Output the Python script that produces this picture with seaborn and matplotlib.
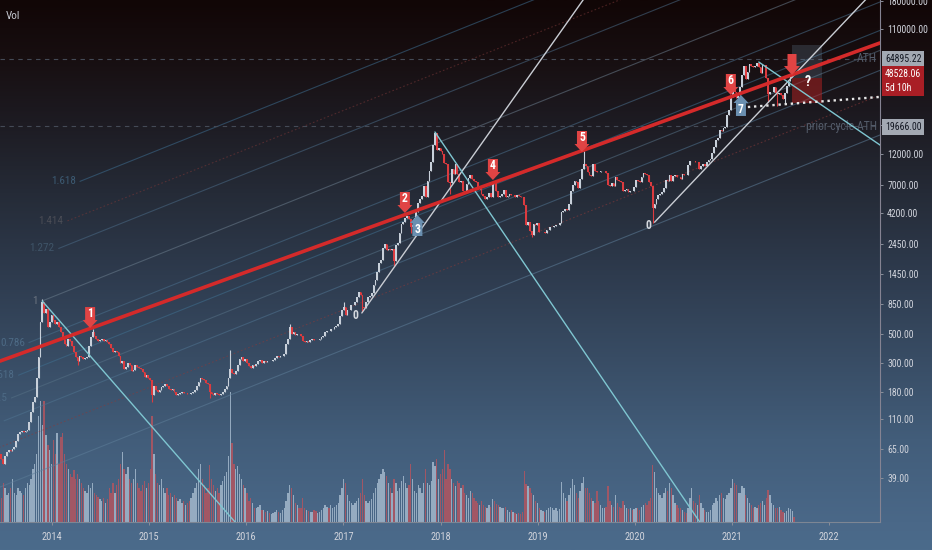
import numpy as np
import pandas as pd
import matplotlib
matplotlib.use("Agg")
import matplotlib.pyplot as plt
import matplotlib.dates as mdates
import matplotlib.transforms as mtransforms
from matplotlib.patches import Polygon
from matplotlib.colors import LinearSegmentedColormap
from matplotlib.ticker import FixedLocator, FixedFormatter, NullLocator
import seaborn as sns

# ---- weekly closes (candles start on Monday 2013-06-17) ----
close_2013 = [60, 55, 50, 58, 62, 64, 63, 65, 68, 75, 85, 88, 90, 88, 90, 92, 105, 125, 150, 165,
              230, 330, 620, 880, 720, 780, 560, 620, 700]
close_2014 = [640, 600, 620, 560, 520, 460, 420, 400, 460, 440, 400, 360, 330, 310, 340, 330, 320,
              325, 330, 400, 470, 520, 480, 460, 440, 450, 455, 440, 450, 430, 420, 390, 360, 370,
              360, 340, 300, 310, 270, 280, 300, 290, 260, 265, 290, 280, 275, 270, 255, 235, 240, 230]
close_2015 = [220, 170, 200, 185, 180, 185, 195, 200, 205, 200, 190, 185, 188, 180, 170, 172, 175,
              178, 176, 177, 174, 172, 176, 180, 185, 198, 215, 228, 225, 222, 210, 205, 180, 172,
              170, 175, 172, 170, 172, 178, 190, 200, 230, 270, 250, 245, 260, 290, 320, 330, 310, 320]
close_2016 = [300, 285, 275, 290, 285, 295, 310, 315, 300, 310, 305, 310, 308, 312, 315, 325, 335,
              330, 335, 335, 350, 420, 460, 560, 500, 520, 490, 500, 495, 480, 440, 435, 440, 432,
              445, 455, 450, 445, 450, 460, 470, 480, 520, 530, 525, 540, 545, 560, 570, 600, 680, 760]
close_2017 = [800, 700, 760, 760, 830, 840, 880, 960, 1040, 1000, 800, 790, 880, 960, 970, 1030, 1180,
              1300, 1500, 1750, 1850, 2300, 2450, 2200, 2250, 2200, 2250, 1800, 2400, 2500, 3000,
              3500, 3600, 3900, 4000, 3800, 3300, 3400, 3900, 4300, 5100, 5400, 5700, 6800, 5600,
              7400, 8900, 10500, 14000, 17500, 13000, 13400]
close_2018 = [12600, 12000, 10300, 10100, 7300, 7200, 9200, 8500, 10100, 8400, 7300, 7500, 6200,
              6100, 7100, 7800, 8300, 7700, 7500, 7300, 6500, 6800, 5900, 5700, 5400, 5600, 6000,
              5600, 7300, 7200, 6200, 5600, 5700, 5900, 6400, 5600, 5700, 5900, 5800, 5800, 5600,
              5800, 5700, 5650, 5600, 4900, 3400, 3600, 3100, 2850, 3500, 3400, 3550]
close_2019 = [3050, 3050, 3050, 2970, 3140, 3140, 3310, 3310, 3350, 3440, 3440, 3530, 4340, 4390,
              4560, 4470, 4950, 6230, 7000, 7480, 7350, 6620, 7700, 9200, 10150, 9800, 8770, 8260,
              8170, 10150, 8860, 8770, 8690, 8860, 8860, 8860, 8600, 6970, 6790, 7140, 6840, 7950,
              7570, 7520, 7310, 6280, 6360, 6450, 6110, 6280, 6240, 6670]
close_2020 = [7570, 7400, 7310, 7950, 8630, 8420, 8250, 7270, 6880, 4600, 4990, 5380, 5850, 5930,
              6110, 6620, 7650, 7480, 8340, 7480, 8130, 8300, 8040, 8000, 7780, 8370, 8330, 8240,
              9900, 10620, 10710, 10620, 10490, 10530, 9270, 9720, 9990, 9680, 10350, 10830, 10930,
              12350, 13500, 15500, 16000, 18400, 18200, 19150, 19250, 23800, 26300, 33000]
close_2021 = [38200, 36000, 32300, 34300, 39200, 48600, 57500, 45100, 51200, 59000, 57400, 55800,
              57000, 60000, 56200, 50000, 57800, 58200, 46400, 34700, 35700, 35800, 39100, 35500,
              34700, 35300, 34300, 31800, 35400, 39900, 43800, 47100, 49300, 48528.06]
first_open = 64

# ---- weekly volume (same weeks) ----
vol_2013 = [30, 25, 40, 35, 28, 30, 35, 45, 30, 28, 35, 32, 30, 28, 35, 40, 38, 45, 55, 60,
            70, 110, 125, 100, 125, 90, 80, 75, 60]
vol_2014 = [85, 70, 92, 60, 88, 92, 70, 60, 55, 50, 47, 54, 45, 50, 44, 40, 35, 32, 30, 38, 35,
            40, 30, 28, 26, 24, 22, 25, 20, 24, 35, 30, 40, 30, 38, 45, 60, 72, 55, 50, 57, 45,
            40, 45, 55, 40, 35, 32, 38, 42, 35, 40]
vol_2015 = [55, 110, 70, 50, 40, 38, 45, 35, 30, 35, 28, 30, 26, 28, 25, 22, 24, 20, 22, 18, 20,
            22, 25, 30, 35, 40, 55, 60, 45, 38, 30, 35, 59, 45, 38, 32, 35, 30, 38, 42, 48, 52,
            68, 135, 82, 60, 55, 58, 50, 45, 38, 35]
vol_2016 = [30, 22, 25, 20, 15, 14, 16, 18, 12, 12, 10, 11, 9, 8, 9, 10, 12, 10, 9, 12, 14, 22,
            30, 38, 35, 28, 20, 18, 15, 14, 25, 15, 12, 11, 10, 10, 12, 11, 9, 10, 12, 14, 18,
            16, 15, 18, 14, 16, 18, 20, 28, 35]
vol_2017 = [45, 40, 28, 22, 20, 18, 20, 22, 25, 30, 45, 28, 22, 20, 22, 24, 30, 35, 40, 45, 50,
            55, 52, 48, 40, 35, 30, 45, 40, 32, 35, 42, 48, 40, 35, 38, 60, 45, 32, 30, 38, 35,
            30, 40, 55, 40, 38, 42, 62, 58, 65, 45]
vol_2018 = [50, 55, 74, 45, 60, 55, 45, 40, 37, 42, 40, 35, 38, 30, 28, 25, 32, 30, 25, 22, 20,
            18, 22, 18, 16, 15, 18, 16, 24, 22, 19, 18, 16, 15, 14, 16, 12, 10, 12, 10, 9, 8, 9,
            8, 10, 53, 39, 37, 35, 30, 28, 22, 20]
vol_2019 = [14, 12, 11, 10, 12, 14, 16, 15, 12, 14, 11, 13, 41, 30, 25, 22, 28, 35, 45, 38, 30,
            25, 32, 40, 47, 35, 35, 30, 25, 22, 20, 32, 22, 18, 15, 14, 16, 37, 22, 18, 16, 28,
            20, 16, 15, 22, 18, 14, 13, 15, 12, 13]
vol_2020 = [15, 14, 12, 16, 18, 20, 18, 22, 25, 59, 52, 35, 30, 28, 25, 30, 35, 32, 40, 35, 28,
            20, 18, 15, 14, 12, 10, 9, 15, 25, 35, 22, 20, 18, 28, 20, 15, 12, 10, 10, 12, 18,
            20, 25, 22, 28, 30, 25, 24, 28, 30, 35]
vol_2021 = [44, 40, 38, 30, 30, 37, 35, 28, 25, 20, 18, 15, 16, 15, 18, 20, 22, 18, 25, 33, 28,
            20, 18, 15, 14, 16, 12, 10, 9, 11, 14, 13, 11, 5]

wick_high = {"2013-11-25": 920, "2014-06-02": 545, "2015-11-02": 376, "2016-06-13": 600,
             "2017-01-02": 880, "2017-12-11": 17800, "2018-07-23": 7500, "2019-06-24": 12700}
wick_low = {"2014-04-07": 290, "2015-01-12": 150, "2015-08-17": 160, "2017-03-13": 740,
            "2017-07-10": 1650, "2017-09-11": 2950, "2018-02-05": 5900, "2018-12-10": 2750,
            "2020-03-09": 3550, "2021-05-17": 30000, "2021-06-21": 28000, "2021-07-19": 29000}

ath = 64895.22
last_price = 48528.06
prior_ath = 19666.00
y_ticks = [39, 65, 110, 180, 300, 500, 850, 1450, 2450, 4200, 7000, 12000, 20000, 110000, 180000]
years = [2014, 2015, 2016, 2017, 2018, 2019, 2020, 2021, 2022]

# drawings (date, price)
red_trend = [("2014-01-01", 431), ("2022-01-01", 61850)]
white_fan = [[("2017-03-11", 723), ("2019-06-21", 183000)],
             [("2020-03-16", 3600), ("2021-08-23", 48600)]]
cyan_down = [[("2013-11-25", 893), ("2015-11-20", 17.94)],
             [("2017-12-11", 17750), ("2020-09-02", 17.94)],
             [("2021-04-12", 61200), ("2022-07-12", 14100)]]
dotted_support = [("2021-03-02", 27600), ("2022-07-12", 33000)]
fib_levels = [0, 0.236, 0.382, 0.5, 0.618, 0.786, 1, 1.272, 1.414, 1.618]
fib_colors = ["#5d7d98", "#8a3a3a", "#4f7390", "#557085", "#3f6f8f", "#4a6f8c", "#6a7c8c",
              "#4a6a86", "#7a3838", "#3d6d90"]
fib_text = ["#4d6a85", "#5a3a3a", "#4d6a85", "#4d6a85", "#4d6a85", "#4d6a85", "#6b7480",
            "#3f5468", "#4a4c55", "#3c5a72"]
fib_price0 = 48.1      # level 0 on 2014-01-01
fib_price1 = 959       # level 1 on 2014-01-01
fib_slope = 0.2984     # decades per year
fib_start1 = "2013-11-24"
fib_step_days = 231
down_marks = [("2014-05-24", 554, "1"), ("2017-08-20", 4236, "2"), ("2018-07-17", 7594, "4"),
              ("2019-06-17", 12460, "5"), ("2020-12-28", 34150, "6")]
up_marks = [("2017-10-06", 4090, "3"), ("2021-02-04", 34150, "7")]
big_mark = ("2021-08-15", 48630)
zero_marks = [("2017-03-11", 723), ("2020-03-16", 3600)]

x_min, x_max = pd.Timestamp("2013-06-19"), pd.Timestamp("2022-07-12")
y_min, y_max = 17.94, 183200

closes = np.array(close_2013 + close_2014 + close_2015 + close_2016 + close_2017 + close_2018
                  + close_2019 + close_2020 + close_2021, dtype=float)
vols = np.array(vol_2013 + vol_2014 + vol_2015 + vol_2016 + vol_2017 + vol_2018 + vol_2019
                + vol_2020 + vol_2021, dtype=float)
dates = pd.date_range("2013-06-17", periods=len(closes), freq="W-MON")
opens = np.r_[first_open, closes[:-1]]
highs = np.maximum(opens, closes)
lows = np.minimum(opens, closes)
idx = pd.Index(dates)
for d, v in wick_high.items():
    i = idx.get_loc(pd.Timestamp(d))
    highs[i] = max(highs[i], v)
for d, v in wick_low.items():
    i = idx.get_loc(pd.Timestamp(d))
    lows[i] = min(lows[i], v)
up = closes >= opens

sns.set_theme(style="dark")
plt.rcParams["font.family"] = ["Roboto Condensed", "Liberation Sans Narrow", "Liberation Sans",
                               "DejaVu Sans"]

fig = plt.figure(figsize=(9.32, 5.5), dpi=100)

# gradient background
bg = fig.add_axes([0, 0, 1, 1], zorder=-10)
grad = LinearSegmentedColormap.from_list("tv", [
    (0.00, "#110606"), (0.10, "#170e10"), (0.22, "#1d1b22"), (0.35, "#252b37"),
    (0.50, "#2e3b4e"), (0.65, "#384c64"), (0.80, "#425d7a"), (0.95, "#4a6888"),
    (1.00, "#4b6b8b")])
bg.imshow(np.linspace(0, 1, 256).reshape(-1, 1), cmap=grad, aspect="auto",
          extent=[0, 1, 0, 1], origin="upper")
bg.axis("off")

rect = [0, 28 / 550, 880 / 932, 522 / 550]
vax = fig.add_axes(rect, zorder=0)
ax = fig.add_axes(rect, zorder=1)
for a in (ax, vax):
    a.set_facecolor("none")
    a.grid(False)
    a.set_xlim(x_min, x_max)

# volume
vax.bar(dates, vols, width=5, color=np.where(up, "#a3b8cc", "#b25560"), alpha=0.85, lw=0)
vax.set_ylim(0, vols.max() * 4.0)
vax.axis("off")

ax.set_yscale("log")
ax.set_ylim(y_min, y_max)
ax.set_xlim(x_min, x_max)

# candles
cols = np.where(up, "#c8d0da", "#dc3b3f")
ax.vlines(dates, lows, highs, colors=cols, lw=0.8, zorder=3)
ax.bar(dates, closes - opens, bottom=opens, width=6.5, color=cols, lw=0, zorder=3)


def log_line(p1, p2, start, end):
    d1, v1 = pd.Timestamp(p1[0]), np.log10(p1[1])
    d2, v2 = pd.Timestamp(p2[0]), np.log10(p2[1])
    k = (v2 - v1) / (d2 - d1).days
    xs = [pd.Timestamp(start), pd.Timestamp(end)]
    return xs, [10 ** (v1 + k * (x - d1).days) for x in xs]


def offset(dx_px, dy_px, base=None):
    base = ax.transData if base is None else base
    return base + mtransforms.ScaledTranslation(dx_px / 100, dy_px / 100, fig.dpi_scale_trans)


# fib channel
base_day = pd.Timestamp("2014-01-01")
for lev, c, tc in zip(fib_levels, fib_colors, fib_text):
    start = pd.Timestamp(fib_start1) + pd.Timedelta(days=(lev - 1) * fib_step_days)
    lp = np.log10(fib_price0) + lev * (np.log10(fib_price1) - np.log10(fib_price0))
    xs = [start, x_max]
    ys = [10 ** (lp + fib_slope * (x - base_day).days / 365.25) for x in xs]
    ls = (0, (1.5, 2)) if c in ("#8a3a3a", "#7a3838") else "-"
    ax.plot(xs, ys, color=c, lw=0.8, ls=ls, alpha=0.55, zorder=2)
    if lev >= 0.5:
        ax.text(start, ys[0], f"{lev:g}", transform=offset(-4, 0), ha="right", va="center",
                fontsize=8, color=tc, clip_on=True, clip_box=ax.bbox, zorder=2)

# horizontal levels
for lvl, txt in ((ath, "ATH"), (prior_ath, "prior cycle ATH")):
    ax.axhline(lvl, color="#444a56", lw=0.8, ls=(0, (4, 4)), zorder=2)
    ax.text(0.9965, lvl, txt, transform=ax.get_yaxis_transform(), ha="right", va="center",
            fontsize=8.5, color="#535b69", zorder=2)

# trend lines
xs, ys = log_line(red_trend[0], red_trend[1], x_min, x_max)
sns.lineplot(x=xs, y=ys, ax=ax, color="#d42a2a", lw=2.6, zorder=5)
for seg in white_fan:
    xs, ys = log_line(seg[0], seg[1], seg[0][0], x_max)
    ax.plot(xs, ys, color="#c9cdd4", lw=1.0, zorder=4)
for seg in cyan_down:
    end = pd.Timestamp(seg[1][0]) + pd.Timedelta(days=60)
    xs, ys = log_line(seg[0], seg[1], seg[0][0], end)
    ax.plot(xs, ys, color="#7fc6d1", lw=1.0, zorder=4)
xs, ys = log_line(dotted_support[0], dotted_support[1], dotted_support[0][0], x_max)
ax.plot(xs, ys, color="#e6e6e6", lw=1.7, ls=(0, (1, 1.6)), zorder=4)

# projection box
b0, b1 = pd.Timestamp("2021-08-15"), pd.Timestamp("2021-12-05")
ax.fill_between([b0, b1], 46100, 82700, color="#7fa4c0", alpha=0.2, lw=0, zorder=3)
ax.fill_between([b0, b1], 29650, 46100, color="#b52222", alpha=0.5, lw=0, zorder=3)
ax.text(pd.Timestamp("2021-10-14"), 42970, "?", color="white", fontsize=10,
        fontweight="bold", ha="center", va="center", zorder=7)


def arrow(date, price, label, up_dir=False, color="#e04444", bw=10, tw=15, bh=13, th=8):
    xd = mdates.date2num(pd.Timestamp(date))
    tr = fig.dpi_scale_trans + mtransforms.ScaledTranslation(xd, price, ax.transData)
    s = -1 if up_dir else 1
    v = np.array([(0, 0), (tw / 2, th), (bw / 2, th), (bw / 2, th + bh), (-bw / 2, th + bh),
                  (-bw / 2, th), (-tw / 2, th)], dtype=float)
    v[:, 1] *= s
    ax.add_patch(Polygon(v / 100, closed=True, transform=tr, fc=color, ec="none", zorder=6))
    if label:
        ax.text(0, s * (th + bh / 2) / 100, label, transform=tr, ha="center", va="center",
                color="white", fontsize=8.5, fontweight="bold", zorder=7)


for d, p, lab in down_marks:
    arrow(d, p, lab)
for d, p, lab in up_marks:
    arrow(d, p, lab, up_dir=True, color="#6a8fb0")
arrow(big_mark[0], big_mark[1], "", bw=9, tw=16, bh=12, th=9)

for d, p in zero_marks:
    ax.text(pd.Timestamp(d), p, "0", transform=offset(-6, -3), ha="center", va="center",
            color="#d4d8de", fontsize=8.5, fontweight="bold", zorder=6)

# axes styling
ax.yaxis.tick_right()
ax.yaxis.set_major_locator(FixedLocator(y_ticks))
ax.yaxis.set_major_formatter(FixedFormatter([f"{v:.2f}" for v in y_ticks]))
ax.yaxis.set_minor_locator(NullLocator())
ax.set_xticks([pd.Timestamp(f"{y}-01-01") for y in years])
ax.set_xticklabels([str(y) for y in years])
ax.xaxis.set_minor_locator(NullLocator())
ax.tick_params(axis="y", which="major", right=True, left=False, length=2.2, width=0.7,
               color="#8a8f9a", labelcolor="#d1d4dc", labelsize=7, pad=3)
ax.tick_params(axis="x", which="major", bottom=True, length=2.2, width=0.7, color="#8a8f9a",
               labelcolor="#d1d4dc", labelsize=7.5, pad=5)
ax.set_xlabel("")
ax.set_ylabel("")
for side in ("left", "top"):
    ax.spines[side].set_visible(False)
ax.spines["right"].set_color("#858392")
ax.spines["bottom"].set_color("#7d8694")
for side in ("right", "bottom"):
    ax.spines[side].set_linewidth(0.8)

ax.text(0.0068, 0.969, "Vol", transform=ax.transAxes, color="#c5c8d0", fontsize=8,
        ha="left", va="center")

# price labels on the scale
ytr = ax.get_yaxis_transform()
box_kw = dict(boxstyle="square,pad=0.3", ec="none")
ax.text(1.0, ath, f"{ath:.2f}", transform=offset(5, 0, ytr), ha="left", va="center",
        fontsize=7, color="#131722", bbox=dict(fc="#a3a9b3", **box_kw), clip_on=False, zorder=10)
ax.text(1.0, prior_ath, f"{prior_ath:.2f}", transform=offset(5, -1, ytr), ha="left",
        va="center", fontsize=7, color="#131722", bbox=dict(fc="#a3a9b3", **box_kw),
        clip_on=False, zorder=10)
ax.text(1.0, last_price, f"{last_price:.2f}\n5d 10h", transform=offset(5, 6, ytr), ha="left",
        va="top", fontsize=7, color="white", linespacing=1.5,
        bbox=dict(fc="#a91e25", **box_kw), clip_on=False, zorder=10)

fig.savefig("out.png", dpi=100)
